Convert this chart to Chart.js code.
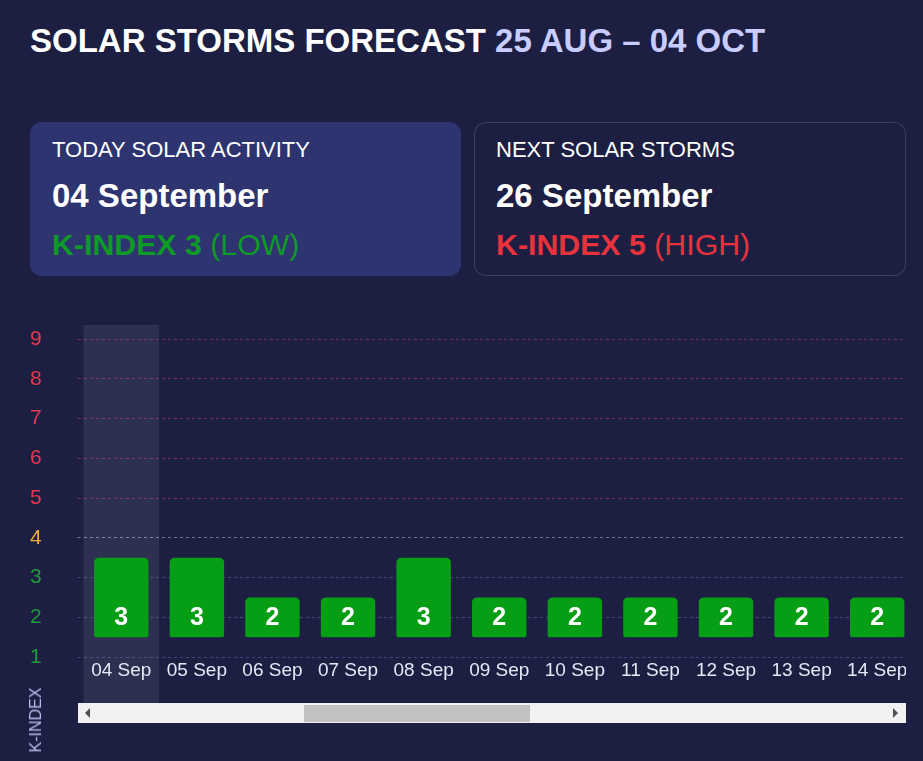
<!DOCTYPE html>
<html>
<head>
<meta charset="utf-8">
<script src="https://cdn.jsdelivr.net/npm/chart.js@4"></script>
<style>
  html, body { margin:0; padding:0; }
  body { width:923px; height:761px; overflow:hidden; background:#1c1f42; position:relative;
         font-family:"Liberation Sans", Arial, sans-serif; }
  .title { position:absolute; left:30px; top:24px; margin:0; font-size:33px; line-height:1; font-weight:bold;
           color:#ffffff; white-space:nowrap; }
  .title span { color:#c8ccff; }
  .card { position:absolute; top:122px; height:154px; border-radius:12px; box-sizing:border-box; }
  .card1 { left:30px; width:431px; background:#2e3470; }
  .card2 { left:474px; width:432px; background:#1c1f42; border:1px solid rgba(255,255,255,0.14); }
  .card .lbl { position:absolute; left:22px; top:17px; font-size:22px; line-height:1; color:#ffffff; white-space:nowrap; }
  .card .date { position:absolute; left:22px; top:57px; font-size:33px; line-height:1; font-weight:bold; color:#ffffff; white-space:nowrap; }
  .card .kidx { position:absolute; left:22px; top:108px; font-size:30.3px; line-height:1; white-space:nowrap; }
  .card2 .lbl, .card2 .date, .card2 .kidx { left:21px; top:16px; }
  .card2 .date { top:56px; }
  .card2 .kidx { top:107px; }
  .kidx b { font-weight:bold; }
  .low { color:#0e9a26; }
  .high { color:#e8333d; }
  #wrap { position:absolute; left:0; top:300px; width:906px; height:403px; overflow:hidden; clip-path:inset(0 0 0 0); }
  #wrap canvas { display:block; }
  #track { position:absolute; left:78px; top:703px; width:828px; height:20px; background:#f1f1f1; }
  #thumb { position:absolute; left:304px; top:705px; width:226px; height:17px; background:#c1c1c1; }
  .arrL { position:absolute; left:85px; top:708px; width:0; height:0; border-top:5px solid transparent;
          border-bottom:5px solid transparent; border-right:5px solid #505050; }
  .arrR { position:absolute; left:893px; top:708px; width:0; height:0; border-top:5px solid transparent;
          border-bottom:5px solid transparent; border-left:5px solid #505050; }
  .ytitle { position:absolute; left:36px; top:720px; transform:translate(-50%,-50%) rotate(-90deg);
            font-size:16px; color:#b8bdf0; white-space:nowrap; }
</style>
</head>
<body>
<div class="title">SOLAR STORMS FORECAST <span>25 AUG – 04 OCT</span></div>

<div class="card card1">
  <div class="lbl">TODAY SOLAR ACTIVITY</div>
  <div class="date">04 September</div>
  <div class="kidx low"><b>K-INDEX 3</b> (LOW)</div>
</div>
<div class="card card2">
  <div class="lbl">NEXT SOLAR STORMS</div>
  <div class="date">26 September</div>
  <div class="kidx high"><b>K-INDEX 5</b> (HIGH)</div>
</div>

<div id="wrap"><canvas id="c" width="940" height="403"></canvas></div>
<div id="track"></div><div id="thumb"></div><div class="arrL"></div><div class="arrR"></div>
<div class="ytitle">K-INDEX</div>

<script>
// ---- data ----
const days = ["04 Sep","05 Sep","06 Sep","07 Sep","08 Sep","09 Sep","10 Sep","11 Sep","12 Sep","13 Sep","14 Sep"];
const kIndex = [3, 3, 2, 2, 3, 2, 2, 2, 2, 2, 2];
const yTicks = [1, 2, 3, 4, 5, 6, 7, 8, 9];
const todayIndex = 0;
const barBase = 1.5;

// colours by level
function levelColor(v) {
  if (v >= 5) return '#e6384f';
  if (v === 4) return '#f2aa45';
  return '#1f9a3c';
}
function gridColor(v) {
  if (v >= 5) return 'rgba(205,65,115,0.5)';
  if (v === 4) return 'rgba(205,205,220,0.5)';
  return 'rgba(110,120,185,0.45)';
}

const bandPlugin = {
  id: 'todayBand',
  beforeDraw(chart) {
    const x = chart.scales.x;
    const ctx = chart.ctx;
    const w = x.width / days.length;
    const cx = x.getPixelForValue(todayIndex);
    ctx.save();
    ctx.fillStyle = 'rgba(255,255,255,0.08)';
    ctx.fillRect(cx - w / 2, chart.chartArea.top - 14, w, chart.height - (chart.chartArea.top - 14));
    ctx.restore();
  }
};

const valuePlugin = {
  id: 'valueLabels',
  afterDatasetsDraw(chart) {
    const ctx = chart.ctx;
    const meta = chart.getDatasetMeta(0);
    ctx.save();
    ctx.fillStyle = '#ffffff';
    ctx.font = 'bold 25px "Liberation Sans", Arial, sans-serif';
    ctx.textAlign = 'center';
    ctx.textBaseline = 'middle';
    meta.data.forEach((bar, i) => {
      ctx.fillText(String(kIndex[i]), bar.x, bar.base - 19);
    });
    ctx.restore();
  }
};

new Chart(document.getElementById('c'), {
  type: 'bar',
  data: {
    labels: days,
    datasets: [{
      data: kIndex.map(v => [barBase, v + 0.5]),
      backgroundColor: '#069e14',
      borderSkipped: false,
      borderRadius: { topLeft: 5, topRight: 5, bottomLeft: 2, bottomRight: 2 },
      barPercentage: 0.72,
      categoryPercentage: 1
    }]
  },
  options: {
    responsive: false,
    animation: false,
    devicePixelRatio: 1,
    layout: { padding: { top: 39, right: 25, bottom: 0, left: 30 } },
    plugins: { legend: { display: false }, tooltip: { enabled: false } },
    scales: {
      x: {
        grid: { display: false, drawTicks: false },
        border: { display: false },
        ticks: { color: '#e6e8f5', font: { size: 19, family: '"Liberation Sans", Arial, sans-serif' }, padding: 2, maxRotation: 0, autoSkip: false },
        afterFit(s) { s.height = 46; }
      },
      y: {
        min: 1, max: 9,
        afterBuildTicks(s) { s.ticks = yTicks.map(v => ({ value: v })); },
        grid: {
          color: c => gridColor(c.tick.value),
          tickColor: c => gridColor(c.tick.value),
          tickBorderDash: [3, 3],
          tickLength: 6,
          lineWidth: 1
        },
        border: { display: false, dash: [3, 3] },
        ticks: {
          color: c => levelColor(c.tick.value),
          font: { size: 21, family: '"Liberation Sans", Arial, sans-serif' },
          crossAlign: 'far',
          padding: 0
        },
        afterFit(s) { s.width = 53.5; }
      }
    }
  },
  plugins: [bandPlugin, valuePlugin]
});
</script>
</body>
</html>
